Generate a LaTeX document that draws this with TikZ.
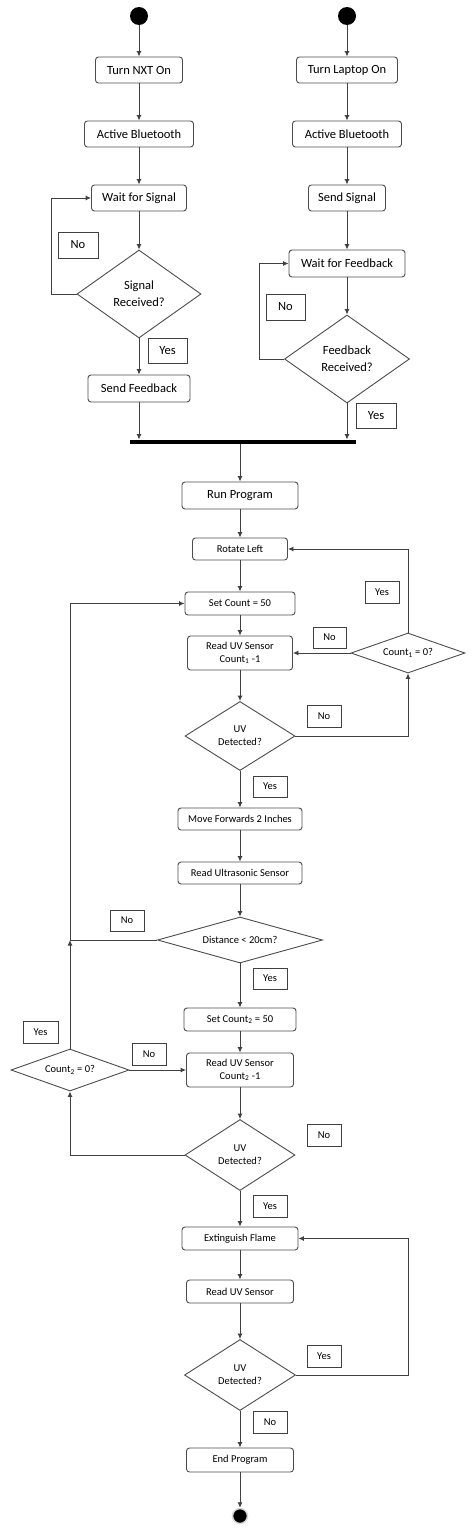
\documentclass[tikz,border=0pt]{standalone}
\usepackage{fontspec}
\setmainfont{Carlito}
\usetikzlibrary{shapes.geometric,arrows.meta}
\begin{document}
\begin{tikzpicture}[x=1pt,y=-1pt,
  box/.style={draw=black!70, line width=0.9pt, rounded corners=3pt, inner sep=0pt, align=center},
  big/.style={font=\fontsize{12.5}{17}\selectfont},
  small/.style={font=\fontsize{10.5}{13}\selectfont},
  lab/.style={draw=black!75, line width=0.9pt, inner sep=0pt, minimum width=34pt, minimum height=22pt},
  dia/.style={draw=black!70, line width=0.9pt, diamond, inner sep=0pt, align=center},
  arr/.style={draw=black!75, line width=0.9pt, -{Latex[length=5.5pt,width=5pt]}},
  ln/.style={draw=black!75, line width=0.9pt},
  startdot/.style={circle, fill=black, inner sep=0pt, minimum size=18pt},
]
\useasboundingbox (0,0) rectangle (474,1534);

% left column
\node[startdot] (sL) at (139,16) {};
\node[box,big,minimum width=87pt,minimum height=26pt] (nxt) at (139,70) {Turn NXT On};
\node[box,big,minimum width=109pt,minimum height=26pt] (bt1) at (139,134) {Active Bluetooth};
\node[box,big,minimum width=95pt,minimum height=26pt] (w1) at (139,198) {Wait for Signal};
\node[dia,big,minimum width=124pt,minimum height=88pt,aspect=1.41] (d1) at (139,294) {Signal\\Received?};
\node[box,big,minimum width=102pt,minimum height=27pt] (sf) at (139,388.5) {Send Feedback};
\node[lab,big,minimum width=40pt,minimum height=26pt] (no1) at (78,245) {No};
\node[lab,big,minimum width=39pt,minimum height=25pt] (yes1) at (167.5,350.5) {Yes};

% right column
\node[startdot] (sR) at (347,16) {};
\node[box,big,minimum width=101pt,minimum height=26pt] (lap) at (347,70) {Turn Laptop On};
\node[box,big,minimum width=109pt,minimum height=26pt] (bt2) at (347,134) {Active Bluetooth};
\node[box,big,minimum width=77pt,minimum height=26pt] (ss) at (347,198) {Send Signal};
\node[box,big,minimum width=116pt,minimum height=27pt] (wf) at (347,263.5) {Wait for Feedback};
\node[dia,big,minimum width=125pt,minimum height=88pt,aspect=1.42] (d2) at (347,359) {Feedback\\Received?};
\node[lab,big,minimum width=39pt,minimum height=26pt] (no2) at (285.5,307) {No};
\node[lab,big,minimum width=40pt,minimum height=25pt] (yes2) at (376,415.5) {Yes};

% join bar
\node[fill=black, inner sep=0pt, minimum width=226pt, minimum height=4.5pt] (bar) at (243,442) {};

% main column
\node[box,big,minimum width=116pt,minimum height=27pt] (run) at (240,495.5) {Run Program};
\node[box,small,minimum width=95pt,minimum height=22pt] (rot) at (240,549) {Rotate Left};
\node[box,small,minimum width=110pt,minimum height=23pt] (set1) at (240,603.5) {Set Count = 50};
\node[box,small,minimum width=105pt,minimum height=34pt] (rd1) at (240,653) {Read UV Sensor\\Count\textsubscript{1} -1};
\node[dia,small,minimum width=114pt,minimum height=40pt,aspect=2.85] (c1) at (408,653) {Count\textsubscript{1} = 0?};
\node[lab,small] (yes3) at (382,592) {Yes};
\node[lab,small,minimum width=33pt,minimum height=21pt] (no3) at (329.5,637.5) {No};
\node[dia,small,minimum width=110pt,minimum height=69pt,aspect=1.59] (uv1) at (240,736) {UV\\Detected?};
\node[lab,small] (no4) at (324,716) {No};
\node[lab,small,minimum height=21pt] (yes4) at (270,786.5) {Yes};
\node[box,small,minimum width=124pt,minimum height=22pt] (mv) at (240,819) {Move Forwards 2 Inches};
\node[box,small,minimum width=124pt,minimum height=22pt] (us) at (240,873) {Read Ultrasonic Sensor};
\node[dia,small,minimum width=165pt,minimum height=46pt,aspect=3.6] (dist) at (240,940) {Distance < 20cm?};
\node[lab,small,minimum height=21pt] (no5) at (127,920.5) {No};
\node[lab,small,minimum height=21pt] (yes5) at (270,978.5) {Yes};
\node[box,small,minimum width=112pt,minimum height=23pt] (set2) at (240,1019.5) {Set Count\textsubscript{2} = 50};
\node[box,small,minimum width=107pt,minimum height=34pt] (rd2) at (240,1070) {Read UV Sensor\\Count\textsubscript{2} -1};
\node[dia,small,minimum width=118pt,minimum height=42pt,aspect=2.8] (c2) at (70,1070) {Count\textsubscript{2} = 0?};
\node[lab,small] (no6) at (149,1054) {No};
\node[lab,small,minimum width=35pt] (yes6) at (40.5,1032) {Yes};
\node[dia,small,minimum width=110pt,minimum height=71pt,aspect=1.55] (uv2) at (240,1155) {UV\\Detected?};
\node[lab,small] (no7) at (324,1135) {No};
\node[lab,small] (yes7) at (270,1206) {Yes};
\node[box,small,minimum width=116pt,minimum height=23pt] (ext) at (240,1238.5) {Extinguish Flame};
\node[box,small,minimum width=107pt,minimum height=23pt] (rd3) at (240,1291.5) {Read UV Sensor};
\node[dia,small,minimum width=111pt,minimum height=71pt,aspect=1.56] (uv3) at (240,1375) {UV\\Detected?};
\node[lab,small] (yes8) at (324,1356) {Yes};
\node[lab,small] (no8) at (270,1422) {No};
\node[box,small,minimum width=107pt,minimum height=24pt] (endp) at (240,1460) {End Program};
\node[circle, fill=black, draw=black!15, line width=1.5pt, inner sep=0pt, minimum size=15pt] (fin) at (240,1516) {};

% connectors left
\draw[arr] (sL) -- (nxt);
\draw[arr] (nxt) -- (bt1);
\draw[arr] (bt1) -- (w1);
\draw[arr] (w1) -- (d1);
\draw[arr] (d1) -- (sf);
\draw[arr] (d1.west) -- ++(-25,0) |- (w1.west);
\draw[arr] (sf) -- (sf |- bar.north);
% connectors right
\draw[arr] (sR) -- (lap);
\draw[arr] (lap) -- (bt2);
\draw[arr] (bt2) -- (ss);
\draw[arr] (ss) -- (wf);
\draw[arr] (wf) -- (d2);
\draw[arr] (d2.west) -- ++(-24.5,0) |- (wf.west);
\draw[arr] (d2.south) -- (d2.south |- bar.north);
% main
\draw[arr] (run |- bar.south) -- (run);
\draw[arr] (run) -- (rot);
\draw[arr] (rot) -- (set1);
\draw[arr] (set1) -- (rd1);
\draw[arr] (rd1) -- (uv1);
\draw[arr] (c1.west) -- (rd1.east);
\draw[arr] (c1.north) |- (rot.east);
\draw[arr] (uv1.east) -| (c1.south);
\draw[arr] (uv1) -- (mv);
\draw[arr] (mv) -- (us);
\draw[arr] (us) -- (dist);
\draw[arr] (dist.west) -- (c2.north |- dist.west) |- (set1.west);
\draw[arr] (dist) -- (set2);
\draw[arr] (set2) -- (rd2);
\draw[arr] (rd2) -- (uv2);
\draw[arr] (c2.east) -- (rd2.west);
\draw[arr] (c2.north) -- (c2.north |- dist.west);
\draw[arr] (uv2.west) -| (c2.south);
\draw[arr] (uv2) -- (ext);
\draw[arr] (ext) -- (rd3);
\draw[arr] (rd3) -- (uv3);
\coordinate (rx) at (408,1375);
\draw[arr] (uv3.east) -- (rx) |- (ext.east);
\draw[arr] (uv3) -- (endp);
\draw[arr] (endp) -- (fin);
\end{tikzpicture}
\end{document}
